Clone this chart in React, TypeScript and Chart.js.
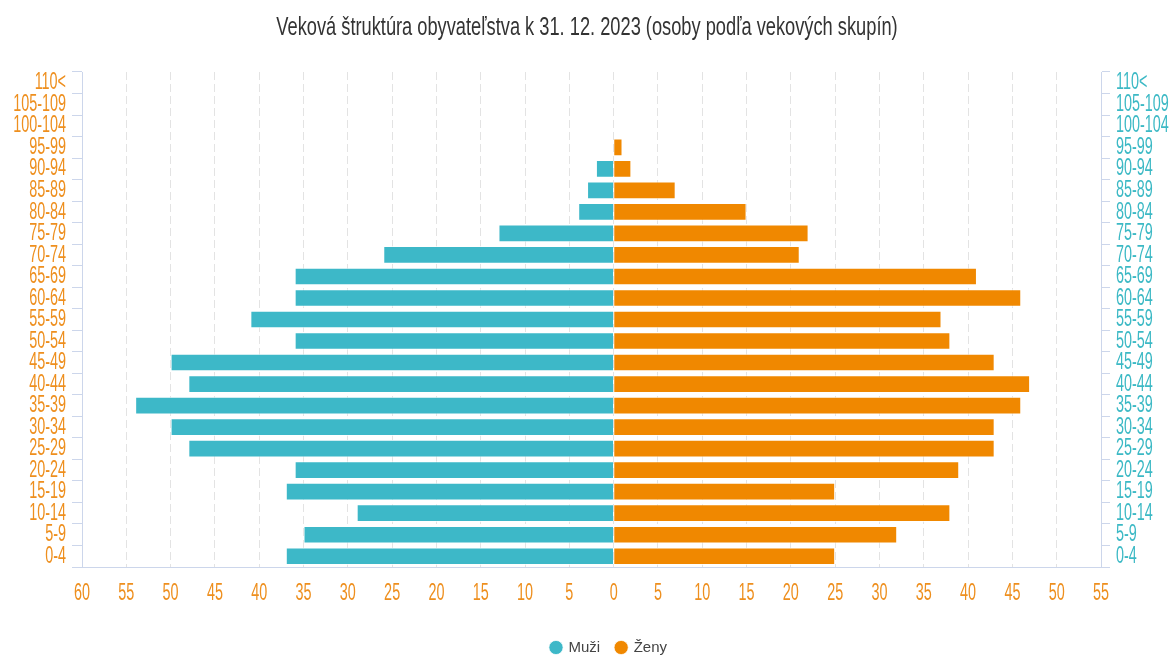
import React, { useEffect, useRef } from 'react';
import { Chart, registerables } from 'chart.js';

Chart.register(...registerables);

const ageGroups = ['0-4', '5-9', '10-14', '15-19', '20-24', '25-29', '30-34', '35-39', '40-44', '45-49', '50-54', '55-59', '60-64', '65-69', '70-74', '75-79', '80-84', '85-89', '90-94', '95-99', '100-104', '105-109', '110<'];
const menValues = [37, 35, 29, 37, 36, 48, 50, 54, 48, 50, 36, 41, 36, 36, 26, 13, 4, 3, 2, 0, 0, 0, 0];
const womenValues = [25, 32, 38, 25, 39, 43, 43, 46, 47, 43, 38, 37, 46, 41, 21, 22, 15, 7, 2, 1, 0, 0, 0];
const seriesNames = ['Muži', 'Ženy'];
const titleText = 'Veková štruktúra obyvateľstva k 31. 12. 2023 (osoby podľa vekových skupín)';
const xMin = -60;
const xMax = 55;
const xStep = 5;

const TEAL = '#3db8c8';
const ORANGE = '#f08800';
const LABEL_ORANGE = '#ee8f1e';
const LABEL_TEAL = '#3cb9c5';
const AXIS = '#ccd6eb';
const FONT = '"Liberation Sans", Arimo, Arial, sans-serif';

const TICK_SIZE = 24;
const TITLE_SIZE = 25;
const LEGEND_SIZE = 15;
// horizontal condensing of the text, per font size (the reference uses a narrow face)
const SQUEEZE: Record<number, number> = { 24: 0.6, 25: 0.73 };

function squeezeFor(font: string): number {
  const m = /(\d+(?:\.\d+)?)px/.exec(font);
  const size = m ? parseFloat(m[1]) : 0;
  return SQUEEZE[size] ?? 1;
}

const legendShift = {
  id: 'legendShift',
  afterLayout(chart: any) {
    if (chart.legend) {
      chart.legend.left += 22;
      chart.legend.right += 22;
    }
  },
};

export default function App() {
  const canvasRef = useRef<HTMLCanvasElement | null>(null);

  useEffect(() => {
    document.body.style.margin = '0';
    const canvas = canvasRef.current;
    if (!canvas) return;
    const ctx = canvas.getContext('2d') as any;
    const origFill = ctx.fillText.bind(ctx);
    const origMeasure = ctx.measureText.bind(ctx);
    ctx.fillText = (text: string, x: number, y: number, maxWidth?: number) => {
      const sq = squeezeFor(ctx.font);
      const w = origMeasure(text).width * sq;
      const mw = maxWidth === undefined || maxWidth === null ? w : Math.min(maxWidth, w);
      origFill(text, x, y, mw);
    };
    ctx.measureText = (text: string) => {
      const m = origMeasure(text);
      const sq = squeezeFor(ctx.font);
      if (sq === 1) return m;
      return {
        width: m.width * sq,
        actualBoundingBoxAscent: m.actualBoundingBoxAscent,
        actualBoundingBoxDescent: m.actualBoundingBoxDescent,
        actualBoundingBoxLeft: m.actualBoundingBoxLeft * sq,
        actualBoundingBoxRight: m.actualBoundingBoxRight * sq,
      };
    };

    const chart = new Chart(canvas, {
      type: 'bar',
      data: {
        labels: ageGroups,
        datasets: [
          {
            label: seriesNames[0],
            data: menValues.map((v) => -v),
            backgroundColor: TEAL,
            borderColor: 'rgba(255,255,255,0.7)',
            borderWidth: 1,
            barPercentage: 0.82,
            categoryPercentage: 1,
            yAxisID: 'y',
          },
          {
            label: seriesNames[1],
            data: womenValues,
            backgroundColor: ORANGE,
            borderColor: 'rgba(255,255,255,0.7)',
            borderWidth: 1,
            barPercentage: 0.82,
            categoryPercentage: 1,
            yAxisID: 'y',
          },
        ],
      },
      options: {
        indexAxis: 'y',
        responsive: false,
        animation: false,
        layout: { padding: { left: 0, right: 0, top: 0, bottom: -7 } },
        plugins: {
          title: {
            display: true,
            text: titleText,
            color: '#333333',
            font: { family: FONT, size: TITLE_SIZE, weight: 'normal' },
            padding: { top: 13, bottom: 29 },
          },
          legend: {
            display: true,
            position: 'bottom',
            labels: {
              usePointStyle: true,
              pointStyle: 'circle',
              boxWidth: 10,
              boxHeight: 10,
              color: '#444444',
              font: { family: FONT, size: LEGEND_SIZE },
              padding: 16,
            },
          },
          tooltip: { enabled: false },
        },
        scales: {
          x: {
            type: 'linear',
            position: 'bottom',
            min: xMin,
            max: xMax,
            stacked: true,
            ticks: {
              stepSize: xStep,
              color: LABEL_ORANGE,
              font: { family: FONT, size: TICK_SIZE },
              padding: 12,
              callback: (v: any) => String(Math.abs(Number(v))),
            },
            grid: {
              color: '#e3e3e3',
              drawTicks: false,
              lineWidth: 1,
            },
            border: { display: true, color: AXIS, dash: [8, 4] },
            afterFit: (s: any) => {
              s.height = 57;
            },
          },
          y: {
            type: 'category',
            position: 'left',
            reverse: true,
            stacked: true,
            offset: true,
            ticks: {
              color: LABEL_ORANGE,
              font: { family: FONT, size: TICK_SIZE },
              padding: 6,
              autoSkip: false,
            },
            grid: {
              offset: true,
              drawOnChartArea: false,
              drawTicks: true,
              tickLength: 10,
              color: AXIS,
            },
            border: { display: true, color: AXIS },
            afterFit: (s: any) => {
              s.width = 82;
            },
          },
          y2: {
            type: 'category',
            axis: 'y',
            position: 'right',
            labels: ageGroups,
            reverse: true,
            offset: true,
            ticks: {
              color: LABEL_TEAL,
              font: { family: FONT, size: TICK_SIZE },
              padding: 6,
              autoSkip: false,
            },
            grid: {
              offset: true,
              drawOnChartArea: false,
              drawTicks: true,
              tickLength: 9,
              color: AXIS,
            },
            border: { display: true, color: AXIS },
            afterFit: (s: any) => {
              s.width = 73;
            },
          },
        },
      },
      plugins: [legendShift],
    } as any);
    return () => chart.destroy();
  }, []);

  return (
    <div style={{ position: 'absolute', left: 0, top: 0, width: 1174, height: 658, background: '#ffffff' }}>
      <canvas ref={canvasRef} width={1174} height={658} style={{ display: 'block' }} />
    </div>
  );
}
